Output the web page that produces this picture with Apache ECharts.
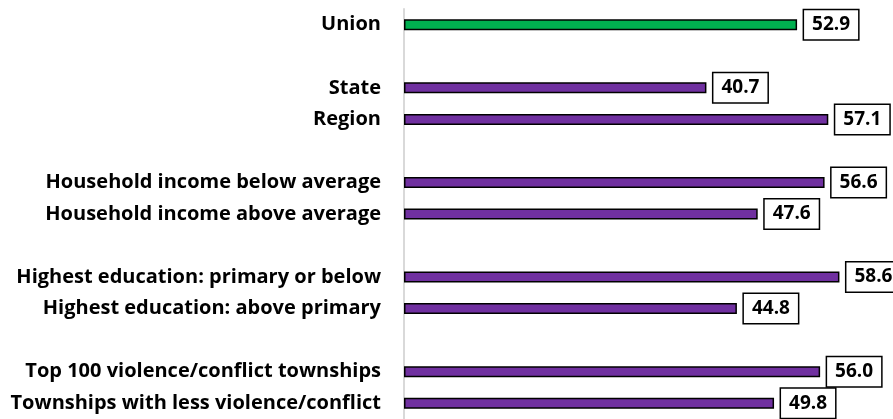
<!DOCTYPE html>
<html>
<head>
<meta charset="utf-8">
<script src="https://cdn.jsdelivr.net/npm/echarts@6/dist/echarts.min.js"></script>
<style>
html,body{margin:0;padding:0;background:#fff;}
#J_chart{width:893px;height:419px;}
</style>
</head>
<body>
<div id="J_chart"></div>
<script>
// rows from top to bottom, '' = spacer row between groups
var categories = ['Union', '', 'State', 'Region', '',
    'Household income below average', 'Household income above average', '',
    'Highest education: primary or below', 'Highest education: above primary', '',
    'Top 100 violence/conflict townships', 'Townships with less violence/conflict'];
var values = [52.9, null, 40.7, 57.1, null, 56.6, 47.6, null, 58.6, 44.8, null, 56.0, 49.8];
var barColors = ['#00b050', null, '#7030a0', '#7030a0', null, '#7030a0', '#7030a0', null,
    '#7030a0', '#7030a0', null, '#7030a0', '#7030a0'];

(function(){
    var myChart = echarts.init(document.getElementById('J_chart'));

    var seriesData = values.map(function(v, i){
        if (v === null) return '-';
        return {
            value: v,
            itemStyle: { color: barColors[i] }
        };
    });

    var option = {
        animation: false,
        grid: {
            left: 404,
            right: 6,
            top: 9,
            bottom: 0
        },
        xAxis: {
            type: 'value',
            min: 0,
            max: 65,
            show: false
        },
        yAxis: {
            type: 'category',
            inverse: true,
            data: categories,
            axisLine: {
                lineStyle: { color: '#d9d9d9', width: 2 }
            },
            axisTick: { show: false },
            axisLabel: {
                margin: 23,
                color: '#000',
                fontFamily: '"Open Sans"',
                fontWeight: 'bold',
                fontSize: 20
            }
        },
        series: [{
            type: 'bar',
            barWidth: 11,
            data: seriesData,
            itemStyle: {
                borderColor: '#000',
                borderWidth: 1.5
            },
            label: {
                show: true,
                position: 'right',
                distance: 7,
                formatter: function(p){ return p.value.toFixed(1); },
                color: '#000',
                fontFamily: '"Open Sans"',
                fontWeight: 'bold',
                fontSize: 19,
                lineHeight: 22,
                backgroundColor: '#fff',
                borderColor: '#000',
                borderWidth: 1.5,
                padding: [4, 8, 3, 8]
            }
        }]
    };

    myChart.setOption(option);
})();
</script>
</body>
</html>
